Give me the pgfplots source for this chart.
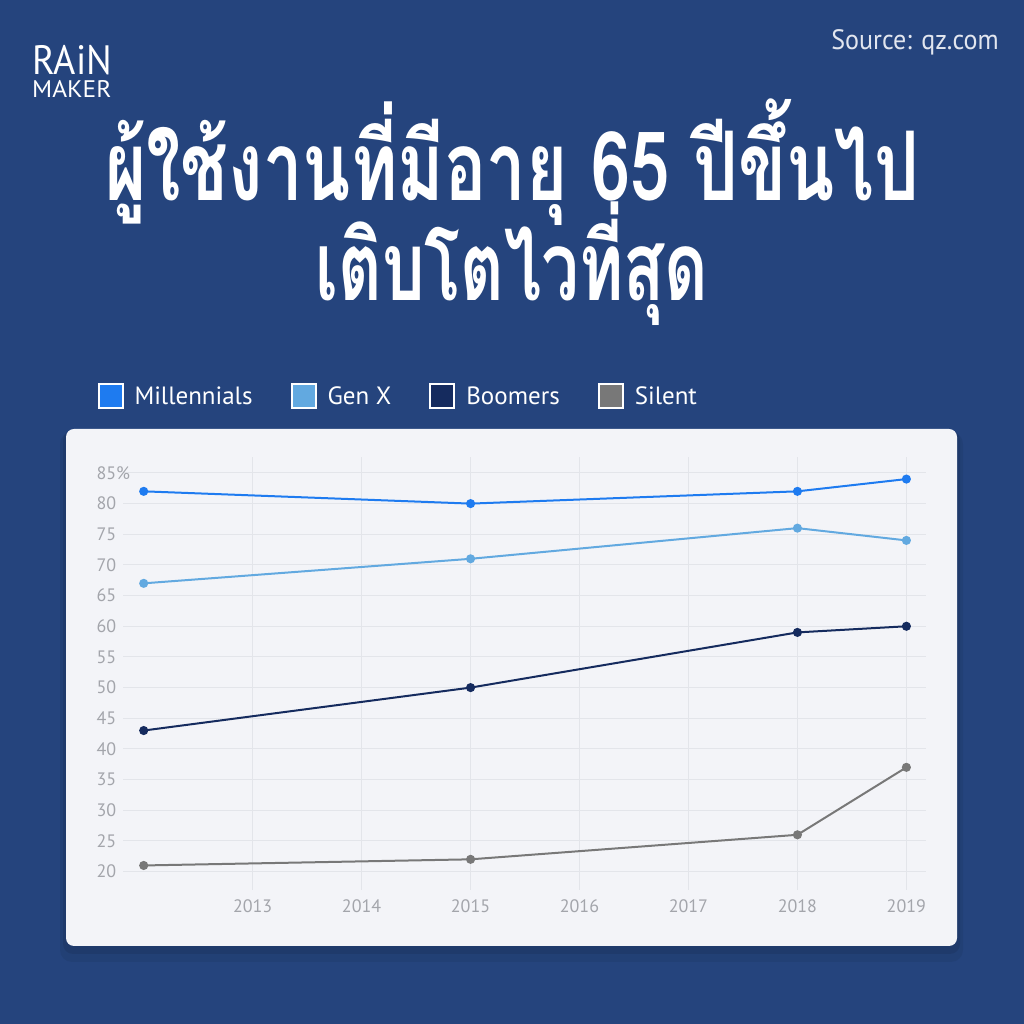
\documentclass[border=0pt]{standalone}
\usepackage{pgfplots}
\pgfplotsset{compat=1.18}
\usepackage{fontspec}
\setmainfont{PT Sans}
\newfontfamily\thaifont[Script=Thai]{Loma}
\definecolor{bg}{HTML}{25447D}
\definecolor{panel}{HTML}{F3F4F8}
\definecolor{gridc}{HTML}{E3E5EA}
\definecolor{tickc}{HTML}{A3A5AB}
\definecolor{mill}{HTML}{1E7BF0}
\definecolor{genx}{HTML}{62A9E0}
\definecolor{boom}{HTML}{152B5E}
\definecolor{sil}{HTML}{787878}
\definecolor{srcc}{HTML}{E2E6EF}
\begin{document}
\begin{tikzpicture}[x=1pt,y=1pt]
\fill[bg] (0,0) rectangle (1024,1024);
\fill[black,opacity=0.06,rounded corners=12pt] (60,62) rectangle (963,592);
\fill[black,opacity=0.08,rounded corners=10pt] (63,70) rectangle (960,594);
\fill[panel,rounded corners=8pt] (66,78) rectangle (957,595);
\node[anchor=base west, inner sep=0, text=white] at (32,949) {\rlap{\raisebox{-23pt}{\fontsize{24}{24}\selectfont\scalebox{1.06}[1]{MAKER}}}{\fontsize{41}{41}\selectfont\scalebox{0.93}[1]{RAiN}}};
\node[anchor=base east, inner sep=0, text=srcc, font=\fontsize{28}{28}\selectfont] at (999,974) {\scalebox{0.93}[1]{Source: qz.com}};
\node[anchor=base, inner sep=0, text=white, font=\thaifont\bfseries\fontsize{96}{96}\selectfont] at (512,823) {\scalebox{0.735}[1]{ผู้ใช้งานที่มีอายุ 65 ปีขึ้นไป}};
\node[anchor=base, inner sep=0, text=white, font=\thaifont\bfseries\fontsize{96}{96}\selectfont] at (512,723) {\scalebox{0.70}[1]{เติบโตไวที่สุด}};
\begin{axis}[
  at={(123pt,134pt)}, anchor=south west,
  scale only axis, width=803pt, height=433pt,
  xmin=2011.81, xmax=2019.18, ymin=17, ymax=87.6,
  axis line style={draw=none},
  major tick length=0pt,
  xtick={2013,2014,...,2019},
  ytick={20,25,...,85},
  yticklabels={20,25,30,35,40,45,50,55,60,65,70,75,80,85\%},
  xticklabel style={/pgf/number format/1000 sep={}, text=tickc, font=\fontsize{18}{18}\selectfont, yshift=-6pt},
  yticklabel style={anchor=west, xshift=-30pt, text=tickc, font=\fontsize{18}{18}\selectfont},
  /pgf/number format/assume math mode=true,
  xmajorgrids, ymajorgrids,
  major grid style={draw=gridc, line width=1pt},
  clip=false,
  legend style={at={(-0.032,1.141)}, anchor=west, draw=none, fill=none, inner sep=0pt,
    legend columns=4, text=white, font=\fontsize{25}{25}\selectfont,
    /tikz/every even column/.append style={column sep=36pt}},
  legend cell align=left,
]
\addplot[mill, line width=2pt, mark=*, mark size=3.5pt,
  legend image code/.code={\draw[white,line width=2pt,fill=mill] (0pt,-12pt) rectangle (24pt,12pt); \path (33pt,0pt);}]
  coordinates {(2012,82) (2015,80) (2018,82) (2019,84)};
\addlegendentry{Millennials}
\addplot[genx, line width=2pt, mark=*, mark size=3.5pt,
  legend image code/.code={\draw[white,line width=2pt,fill=genx] (0pt,-12pt) rectangle (24pt,12pt); \path (33pt,0pt);}]
  coordinates {(2012,67) (2015,71) (2018,76) (2019,74)};
\addlegendentry{Gen X}
\addplot[boom, line width=2pt, mark=*, mark size=3.5pt,
  legend image code/.code={\draw[white,line width=2pt,fill=boom] (0pt,-12pt) rectangle (24pt,12pt); \path (33pt,0pt);}]
  coordinates {(2012,43) (2015,50) (2018,59) (2019,60)};
\addlegendentry{Boomers}
\addplot[sil, line width=2pt, mark=*, mark size=3.5pt,
  legend image code/.code={\draw[white,line width=2pt,fill=sil] (0pt,-12pt) rectangle (24pt,12pt); \path (33pt,0pt);}]
  coordinates {(2012,21) (2015,22) (2018,26) (2019,37)};
\addlegendentry{Silent}
\end{axis}
\end{tikzpicture}
\end{document}
